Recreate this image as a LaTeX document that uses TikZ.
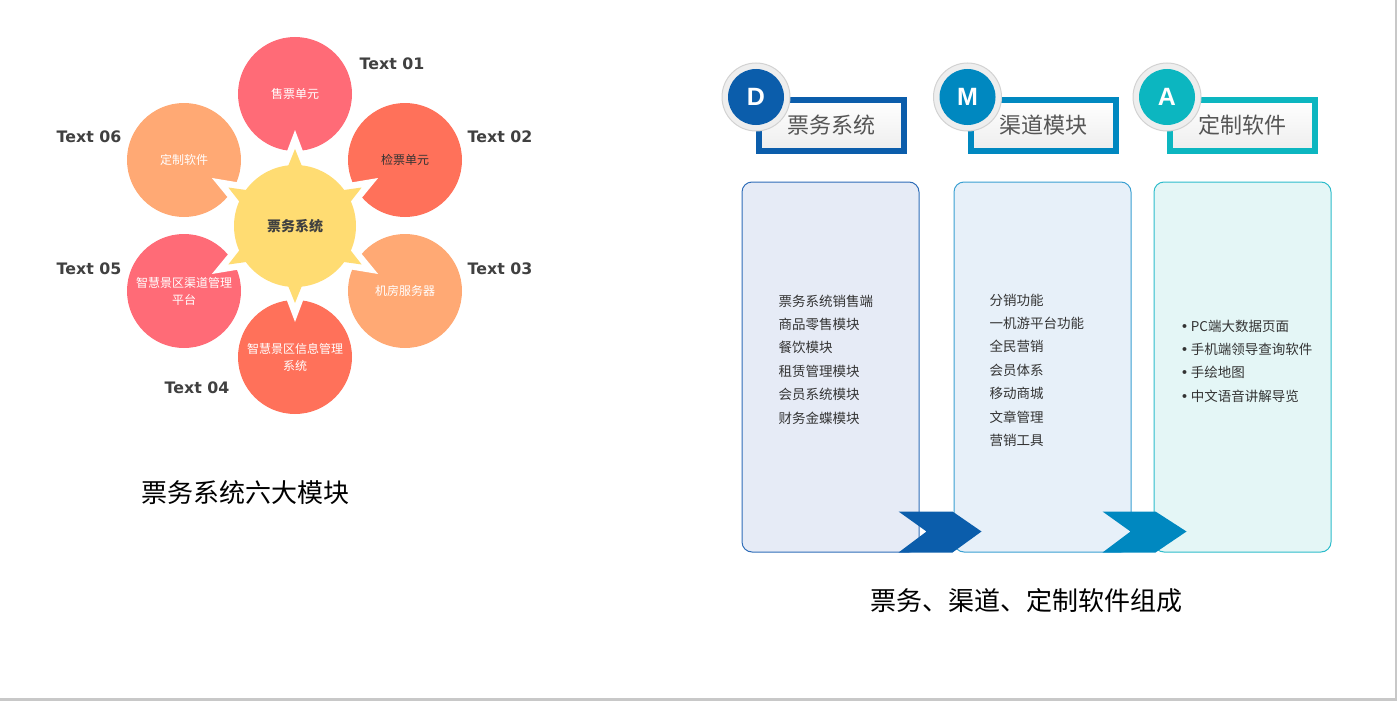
\documentclass[tikz,border=0pt]{standalone}
\usepackage{fontspec}
\setmainfont{Noto Sans CJK SC}
\newfontfamily\tagfont{DejaVu Sans}
\newfontfamily\letterfont{Liberation Sans}
\usetikzlibrary{calc,positioning}

\definecolor{petalpink}{HTML}{FF6B77}
\definecolor{petalcoral}{HTML}{FF715A}
\definecolor{petalpeach}{HTML}{FFA974}
\definecolor{sunyellow}{HTML}{FFDC72}
\definecolor{labelgray}{HTML}{404040}
\definecolor{hdrgray}{HTML}{555555}
\definecolor{listgray}{HTML}{333333}
\definecolor{dblue}{HTML}{0B5DAB}
\definecolor{mblue}{HTML}{0088C0}
\definecolor{ateal}{HTML}{0CB6C0}
\definecolor{panelDline}{HTML}{2F6DB8}
\definecolor{panelDfill}{HTML}{E6EBF6}
\definecolor{panelMline}{HTML}{3AA0D2}
\definecolor{panelMfill}{HTML}{E7F0F9}
\definecolor{panelAline}{HTML}{2DBCCB}
\definecolor{panelAfill}{HTML}{E4F6F6}
\definecolor{framegray}{HTML}{C8C8C8}

\tikzset{
  petal/.style={circle, minimum size=114pt, inner sep=0pt, text=white, align=center,
    font=\fontsize{12}{17}\selectfont},
  tag/.style={text=labelgray, font=\tagfont\bfseries\fontsize{15.8}{18}\selectfont},
  caption/.style={text=black, font=\fontsize{26}{30}\selectfont},
  hdr/.style={minimum width=145pt, minimum height=51pt, inner sep=0pt, line width=6pt,
    top color=white, bottom color=gray!14, text=hdrgray, font=\fontsize{22}{24}\selectfont},
  ring/.style={circle, minimum size=68pt, inner sep=0pt, fill=gray!13, draw=gray!35, line width=1pt},
  badge/.style={circle, minimum size=56pt, inner sep=0pt, text=white,
    font=\letterfont\bfseries\fontsize{25}{25}\selectfont},
  panel/.style={rounded corners=10pt, minimum width=177pt, minimum height=370pt, line width=1pt},
  listtext/.style={anchor=north west, inner sep=0pt, align=left, text=listgray,
    font=\fontsize{13.5}{23.4}\selectfont}
}

\begin{document}
\begin{tikzpicture}[x=1pt, y=-1pt]
\useasboundingbox (0,0) rectangle (1397,701);
\draw[framegray, line width=2.5pt] (0,699.5) -- (1395.8,699.5) -- (1395.8,0);

% six modules
\node[petal, fill=petalpink] (sale) at (295,94) {售票单元};
\node[petal, fill=petalcoral, text=listgray] (check) at (405,160) {检票单元};
\node[petal, fill=petalpeach] (server) at (405,291) {机房服务器};
\node[petal, fill=petalcoral] (info) at (295,357) {智慧景区信息管理\\系统};
\node[petal, fill=petalpink] (channel) at (184,291) {智慧景区渠道管理\\平台};
\node[petal, fill=petalpeach] (custom) at (184,160) {定制软件};

\coordinate (hub) at (295,226);
\foreach \a in {30,90,...,330}
  \fill[white] ($(hub)+(\a-15:58)$) -- ($(hub)+(\a:96)$) -- ($(hub)+(\a+15:58)$) -- cycle;
\fill[white] (hub) circle [radius=68];
\foreach \a in {30,90,...,330}
  \fill[sunyellow] ($(hub)+(\a-9:56)$) -- ($(hub)+(\a:77)$) -- ($(hub)+(\a+9:56)$) -- cycle;
\node[circle, fill=sunyellow, minimum size=122pt, inner sep=0pt, text=labelgray,
  font=\bfseries\fontsize{14}{16}\selectfont] (sun) at (hub) {票务系统};

\node[tag] (t1) at (392,64) {Text 01};
\node[tag] (t2) at (500,137) {Text 02};
\node[tag] (t3) at (500,269) {Text 03};
\node[tag] (t4) at (197,388) {Text 04};
\node[tag] (t5) at (89,269) {Text 05};
\node[tag] (t6) at (89,137) {Text 06};

\node[caption] (cap1) at (245,493) {票务系统六大模块};

% three parts
\node[panel, draw=panelDline, fill=panelDfill] (panelD) at (830.5,367) {};
\node[panel, draw=panelMline, fill=panelMfill] (panelM) at (1042.5,367) {};
\node[panel, draw=panelAline, fill=panelAfill] (panelA) at (1242.5,367) {};

\fill[dblue] ($(panelD.south east)+(-21,0)$) -- ++(28,-21) -- ++(-28,-20) -- ++(54,0)
  -- ++(29,20) -- ++(-29,21) -- cycle;
\fill[mblue] ($(panelM.south east)+(-29,0)$) -- ++(28,-21) -- ++(-28,-20) -- ++(53,0)
  -- ++(31,20) -- ++(-31,21) -- cycle;

\node[listtext] (listD) at ($(panelD.north west)+(37,113)$)
  {票务系统销售端\\商品零售模块\\餐饮模块\\租赁管理模块\\会员系统模块\\财务金蝶模块};
\node[listtext] (listM) at ($(panelM.north west)+(36,112)$)
  {分销功能\\一机游平台功能\\全民营销\\会员体系\\移动商城\\文章管理\\营销工具};
\node[listtext] (listA) at ($(panelA.north west)+(27,138)$)
  {{\tagfont•}\,PC端大数据页面\\{\tagfont•}\,手机端领导查询软件\\{\tagfont•}\,手绘地图\\{\tagfont•}\,中文语音讲解导览};

\node[hdr, draw=dblue] (hdrD) at (831.5,125.5) {票务系统};
\node[hdr, draw=mblue] (hdrM) at (1043,125.5) {渠道模块};
\node[hdr, draw=ateal] (hdrA) at (1242.5,125.5) {定制软件};

\node[ring] (ringD) at (hdrD.north west) {};
\node[badge, fill=dblue] (badgeD) at (hdrD.north west) {D};
\node[ring] (ringM) at (hdrM.north west) {};
\node[badge, fill=mblue] (badgeM) at (hdrM.north west) {M};
\node[ring] (ringA) at (hdrA.north west) {};
\node[badge, fill=ateal] (badgeA) at (hdrA.north west) {A};

\node[caption] (cap2) at (1026,601) {票务、渠道、定制软件组成};
\end{tikzpicture}
\end{document}
